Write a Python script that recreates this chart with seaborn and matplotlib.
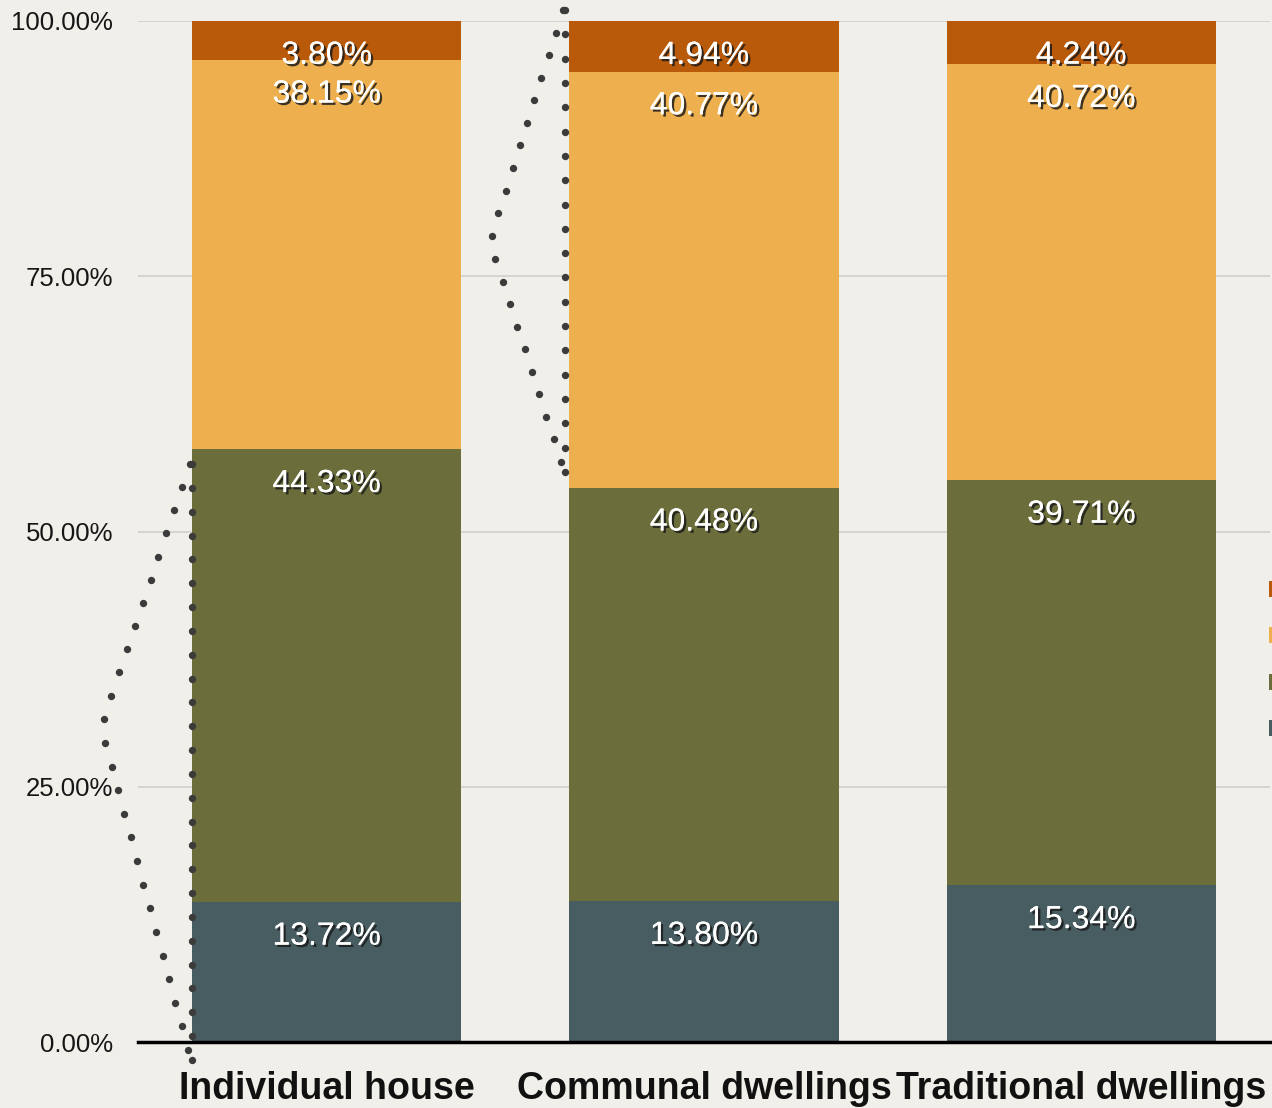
import matplotlib
matplotlib.use("Agg")
import numpy as np
import pandas as pd
import seaborn as sns
import matplotlib.pyplot as plt
import matplotlib.patheffects as pe
from matplotlib.patches import Patch

# ---- data -------------------------------------------------------------
categories = ["Individual house", "Communal dwellings", "Traditional dwellings"]
layer_1 = [13.72, 13.80, 15.34]   # bottom segment
layer_2 = [44.33, 40.48, 39.71]
layer_3 = [38.15, 40.77, 40.72]
layer_4 = [3.80, 4.94, 4.24]      # top segment
y_ticks = [0, 25, 50, 75, 100]

layers = [layer_1, layer_2, layer_3, layer_4]
colors = ["#485d62", "#6b6e3b", "#eeb04f", "#b9590a"]
paper = "#f1efea"

# ---- style ------------------------------------------------------------
sns.set_theme(style="white")
plt.rcParams["font.family"] = ["Liberation Sans", "DejaVu Sans"]

fig = plt.figure(figsize=(12.72, 11.08), dpi=100, facecolor=paper)
ax = fig.add_axes([138 / 1272, 66 / 1108, 1132 / 1272, 1021 / 1108])
ax.set_facecolor(paper)

tops = np.cumsum(np.array(layers), axis=0)

# stacked bars: draw cumulative heights from the top layer downwards
for i in reversed(range(len(layers))):
    df = pd.DataFrame({"category": categories, "top": tops[i]})
    sns.barplot(data=df, x="category", y="top", color=colors[i],
                saturation=1, width=0.713, errorbar=None, ax=ax,
                edgecolor="none", linewidth=0, zorder=2)

# value labels just under each segment's upper edge
shadow = [pe.withSimplePatchShadow(offset=(1.7, -1.7), shadow_rgbFace="#1c1c1c", alpha=0.85),
          pe.Normal()]
for i, vals in enumerate(layers):
    for j, v in enumerate(vals):
        ax.annotate(f"{v:.2f}%", xy=(j, tops[i][j]), xytext=(0, -25),
                    textcoords="offset points", ha="center", va="center",
                    fontsize=23, color="white", path_effects=shadow, zorder=5)

ax.set_xlim(-0.5, 2.5)
ax.set_ylim(0, 100)
ax.set_yticks(y_ticks)
ax.set_yticklabels([f"{t:.2f}%" for t in y_ticks])
ax.yaxis.grid(True, color="#cfcdc8", linewidth=1.1, zorder=0)
ax.set_axisbelow(True)
ax.set_xlabel("")
ax.set_ylabel("")
ax.tick_params(axis="y", length=0, pad=18, labelsize=18.5, labelcolor="#161616")
ax.tick_params(axis="x", length=0, pad=21, labelsize=27, labelcolor="#111111")
for lab in ax.get_xticklabels():
    lab.set_fontweight("bold")
for side in ["top", "right", "left"]:
    ax.spines[side].set_visible(False)
ax.spines["bottom"].set_color("#000000")
ax.spines["bottom"].set_linewidth(2.5)
ax.spines["bottom"].set_zorder(4)

# legend swatches at the right margin
handles = [Patch(facecolor=c, edgecolor="none") for c in reversed(colors)]
fig.legend(handles, ["", "", "", ""], loc="upper left",
           bbox_to_anchor=(1269 / 1272, 1 - 581 / 1108), frameon=False,
           fontsize=13, handlelength=1.0, handleheight=1.0, labelspacing=1.55,
           borderpad=0, borderaxespad=0, handletextpad=0.2)

# ---- dotted bracket ornaments ------------------------------------------
deco = fig.add_axes([0, 0, 1, 1], zorder=10)
deco.set_xlim(0, 1272)
deco.set_ylim(1108, 0)
deco.axis("off")
deco.patch.set_alpha(0)


def polyline_dots(points, step):
    pts = np.array(points, dtype=float)
    seg = np.hypot(*np.diff(pts, axis=0).T)
    dist = np.concatenate([[0], np.cumsum(seg)])
    n = int(round(dist[-1] / step))
    d = np.linspace(0, dist[-1], n + 1)
    return np.interp(d, dist, pts[:, 0]), np.interp(d, dist, pts[:, 1])


def bracket(edge_x, y_top, y_bot, tip_x, tip_y, step):
    vx, vy = polyline_dots([(edge_x, y_top), (edge_x, y_bot)], 24)
    cx, cy = polyline_dots([(edge_x - 2, y_top), (tip_x + 3, tip_y - 14),
                            (tip_x, tip_y), (tip_x + 3, tip_y + 14),
                            (edge_x - 4, y_bot - 10)], step)
    deco.scatter(np.concatenate([vx, cx]), np.concatenate([vy, cy]),
                 s=28, color="#3b3b3b", linewidths=0)


bracket(192, 464, 1060, 102, 728, 24)
bracket(565, 10, 472, 491, 241, 24)

fig.savefig("out.png", dpi=100, facecolor=paper)
